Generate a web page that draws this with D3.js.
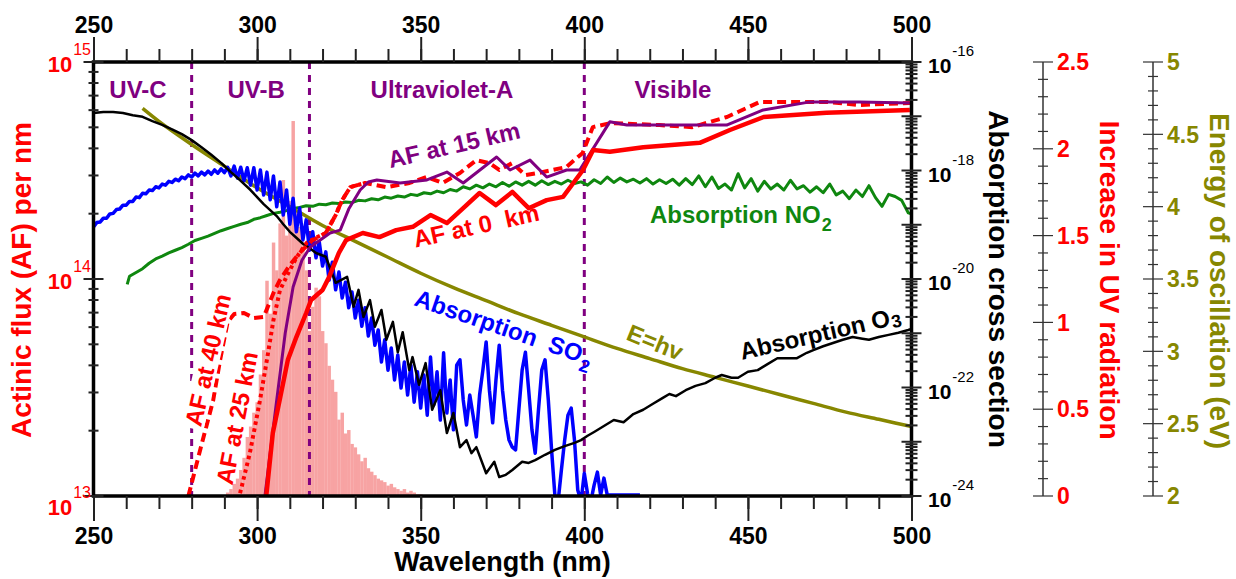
<!DOCTYPE html>
<html>
<head>
<meta charset="utf-8">
<script src="https://cdn.jsdelivr.net/npm/d3@7"></script>
<style>
  body { margin: 0; background: #fff; }
  svg { display: block; font-family: "Liberation Sans", Arial, sans-serif; font-weight: bold; }
</style>
</head>
<body>
<svg id="chart" width="1236" height="579"></svg>
<script>
// ---------- data ----------
const wavelengthTicks = [250, 300, 350, 400, 450, 500];
const regionBounds = [280, 316, 400];
const regionNames = ["UV-C", "UV-B", "Ultraviolet-A", "Visible"];
const afDecades = [13, 14, 15];
const sigmaDecades = [-24, -22, -20, -18, -16];
const uvTicks = [0, 0.5, 1, 1.5, 2, 2.5];
const evTicks = [2, 2.5, 3, 3.5, 4, 4.5, 5];

// actinic flux per nm, [nm, value]
const af0km = [[302.8,1.0e13],[304.8,1.95e13],[306.9,2.77e13],[309.4,4.24e13],[312,5.4e13],[315,6.97e13],[316.5,8.0e13],
  [320,8.9e13],[322,1.02e14],[325,1.32e14],[327.2,1.51e14],[332.3,1.63e14],[337.4,1.56e14],[342.5,1.68e14],[347.6,1.74e14],
  [353,1.97e14],[358,1.81e14],[363,2.12e14],[368,2.49e14],[373,2.19e14],[378,2.52e14],[383,2.12e14],[388.5,2.31e14],
  [393.5,2.39e14],[399.6,3.18e14],[402.7,3.93e14],[407.8,3.86e14],[418,4.05e14],[435.3,4.24e14],[444.5,4.86e14],
  [454.8,5.58e14],[474,5.83e14],[499.5,6.01e14]];
const af15km = [[302.4,1.0e13],[304,1.58e13],[306,2.77e13],[308.6,5.64e13],[311,9.18e13],[313.7,1.22e14],[316.2,1.40e14],
  [319.2,1.51e14],[322.3,1.63e14],[325.4,1.68e14],[328,2.1e14],[331.5,2.57e14],[334,2.8e14],[336.6,2.86e14],[343.7,2.77e14],
  [351.9,2.86e14],[358,3.11e14],[363,2.77e14],[373.2,3.65e14],[377.3,3.18e14],[383.4,3.53e14],[388.5,2.95e14],[394.6,3.18e14],
  [398.6,3.18e14],[407.8,5.30e14],[413,5.12e14],[443.5,5.12e14],[454.7,6.01e14],[469,6.55e14],[484,6.55e14],[499.5,6.47e14]];
const af25km = [[294.8,1.03e13],[297.8,1.58e13],[300.9,2.77e13],[303,4.24e13],[305,6.47e13],[307,8.9e13],[309.6,1.07e14],
  [312.1,1.26e14],[315.2,1.47e14],[318,1.55e14],[321,1.63e14],[324,1.97e14],[326,2.31e14],[328.5,2.65e14],[333,2.77e14]];
const af40km = [[279,1.0e13],[282.6,1.63e13],[286.6,2.77e13],[288.7,4.24e13],[291,6.34e13],[293,6.9e13],[296,6.97e13],
  [299,6.61e13],[302,6.68e13],[305,8.62e13],[307,9.9e13],[310,1.16e14],[313,1.32e14],[317,1.51e14],[321,1.63e14],
  [324,1.97e14],[326,2.31e14],[328.5,2.65e14],[333,2.77e14],[339.5,2.65e14],[346.6,2.77e14],[351.8,2.95e14],[356.7,2.77e14],
  [362,3.08e14],[367,3.53e14],[371,3.42e14],[374,3.18e14],[378,3.42e14],[382,3.01e14],[386,3.08e14],[394.5,3.28e14],
  [399.5,3.81e14],[402.6,5.01e14],[408,5.23e14],[423,5.12e14],[433,5.01e14],[443.6,5.58e14],[453.7,6.55e14],[474,6.55e14],
  [484,6.34e14],[499.5,6.47e14]];

// log10 of absorption cross section, [nm, log10 sigma]
const o3LogSigma = [[250,-16.94],[253,-16.92],[256,-16.92],[259,-16.94],[262,-16.98],[265,-17.01],[268,-17.09],[271,-17.16],
  [274,-17.24],[277,-17.33],[280,-17.44],[283,-17.57],[286,-17.71],[289,-17.86],[292,-18.03],[295,-18.19],[298,-18.36],
  [300,-18.49],[302,-18.62],[304,-18.73],[306,-18.84],[308,-18.99],[310,-19.13],[312,-19.24],[314,-19.35],[316,-19.43],
  [318,-19.52],[321,-19.59],[324,-20.07],[327.5,-19.96],[329.5,-20.51],[331,-20.20],[332.5,-20.70],[334.5,-20.39],
  [336,-20.88],[338,-20.57],[339.5,-21.12],[341.5,-20.79],[343,-21.35],[344.5,-20.98],[346.5,-21.68],[347.5,-21.44],
  [349.5,-21.95],[351.5,-21.55],[353.5,-22.41],[356,-22.05],[358,-22.84],[360,-22.47],[362,-23.10],[364,-22.97],
  [365.5,-23.21],[367,-23.10],[370,-23.58],[372.5,-23.37],[374,-23.65],[376,-23.61],[378,-23.52],[381,-23.37],[383,-23.39],
  [385,-23.34],[388,-23.24],[391,-23.15],[394,-23.08],[397,-23.02],[399,-22.97],[401,-22.89],[403,-22.82],[406,-22.71],
  [409,-22.60],[412,-22.64],[415,-22.49],[418,-22.41],[421,-22.30],[424,-22.19],[426,-22.12],[428,-22.16],[431,-22.05],
  [434,-21.97],[437,-21.92],[440,-21.82],[442,-21.77],[445,-21.82],[447,-21.82],[450,-21.71],[453,-21.68],[456,-21.57],
  [459,-21.46],[462,-21.46],[465,-21.46],[468,-21.36],[470,-21.31],[473,-21.24],[476,-21.18],[479,-21.12],[482,-21.07],
  [485,-21.10],[487,-21.12],[490,-21.07],[493,-21.03],[496,-20.99],[499,-20.94],[500,-20.92]];
const so2LogSigma = [[250,-19.04],[251,-18.96],[252,-18.95],[253,-18.88],[254,-18.88],[255,-18.80],[256,-18.79],[257,-18.72],
  [258,-18.71],[259,-18.64],[260,-18.64],[261,-18.57],[262,-18.57],[263,-18.49],[264,-18.50],[265,-18.42],[266,-18.43],
  [267,-18.36],[268,-18.37],[269,-18.30],[270,-18.32],[271,-18.25],[272,-18.27],[273,-18.20],[274,-18.22],[275,-18.16],
  [276,-18.19],[277,-18.12],[278,-18.15],[279,-18.08],[280,-18.12],[281,-18.05],[282,-18.10],[283,-18.03],[284,-18.08],
  [285,-18.01],[286,-18.07],[287,-17.99],[288,-18.05],[289,-17.97],[290,-18.04],
  [291,-17.94],[292,-18.10],[293,-17.92],[294,-18.14],[295,-17.94],[296,-18.19],[297,-17.95],[298,-18.27],[299,-17.95],[300,-18.36],
  [301,-17.99],[302,-18.45],[303,-18.03],[304,-18.54],[305,-18.10],[306,-18.67],[307,-18.21],[308,-18.82],[309,-18.36],[310,-18.99],
  [311,-18.51],[312,-19.13],[313,-18.69],[314,-19.28],[315,-18.91],[316,-19.47],[317,-19.13],[318,-19.61],[319,-19.32],[320,-19.76],
  [321,-19.50],[322,-20.02],[323,-19.69],[324,-20.20],[325,-19.87],[326,-20.35],[327,-20.06],[328,-20.53],[329,-20.24],[330,-20.72],
  [331,-20.39],[332,-20.87],[333,-20.53],[334,-21.05],[335,-20.72],[336,-21.22],[337,-20.94],[338,-21.53],[339,-21.12],[340,-21.68],
  [341,-21.27],[342,-21.86],[343,-21.40],[344,-22.01],[345,-21.53],[346,-22.14],[347,-21.59],[348,-22.27],[349,-21.71],[350,-22.38],
  [351,-21.77],[352,-22.51],[353,-21.44],[354,-22.32],[355,-21.71],[356,-22.60],[357,-21.36],[358,-22.47],[359,-21.86],[360,-22.78],
  [361,-21.59],[362,-21.49],[363,-22.23],[364,-22.69],[365,-22.14],[366,-22.51],[367,-22.91],[368,-22.14],[369,-21.68],[370,-21.16],
  [371,-22.05],[372,-22.65],[373,-21.86],[374,-21.22],[375,-22.05],[376,-22.60],[377,-22.97],[378,-23.10],[379,-23.15],[380,-22.41],
  [381,-21.68],[382,-21.35],[383,-22.05],[384,-22.78],[385,-23.21],[386,-22.41],[387,-21.68],[388,-21.49],[389,-22.23],[390,-23.15],
  [391,-23.98],[392,-24.10],[393,-23.52],[394,-22.97],[395,-22.51],[396,-22.38],[397,-22.97],[398,-23.89],[399,-24.10],[400,-23.58],
  [401,-23.96],[402,-24.10],[403,-23.80],[404,-23.56],[405,-23.98],[406,-23.67],[407,-23.98],[417,-23.98]];
const no2LogSigma = [[260.3,-20.10],[261,-19.95],[263,-19.88],[265,-19.81],[267,-19.71],[269,-19.63],[271,-19.58],[273,-19.52],
  [275,-19.47],[277,-19.42],[279,-19.36],[281,-19.29],[283,-19.25],[285,-19.21],[287,-19.16],[289,-19.11],[291,-19.07],
  [293,-19.03],[295,-18.99],[297,-18.96],[299,-18.90],[301,-18.87],[303,-18.83],[305,-18.79],[307,-18.77],[309,-18.74],
  [311,-18.70],[313,-18.68],[315,-18.65],[317,-18.66],[319,-18.62],[321,-18.63],[323,-18.60],[325,-18.61],[327,-18.58],
  [329,-18.59],[331,-18.55],[333,-18.56],[335,-18.52],[337,-18.54],[339,-18.49],[341,-18.51],[343,-18.47],[345,-18.49],
  [347,-18.44],[349,-18.46],[351,-18.41],[353,-18.43],[355,-18.38],[357,-18.41],[359,-18.35],[361,-18.38],[363,-18.30],
  [365,-18.34],[367,-18.27],[369,-18.32],[371,-18.25],[373,-18.30],[375,-18.22],[377,-18.29],[379,-18.21],[381,-18.27],
  [383,-18.20],[385,-18.27],[387,-18.19],[389,-18.26],[391,-18.20],[393,-18.25],[395,-18.18],[397,-18.24],[399,-18.21],
  [401,-18.27],[403,-18.17],[405,-18.24],[407,-18.12],[409,-18.22],[411,-18.14],[413,-18.21],[415,-18.16],[417,-18.23],
  [419,-18.15],[421,-18.25],[423,-18.17],[425,-18.24],[427,-18.16],[429,-18.27],[431,-18.15],[433,-18.26],[435,-18.10],
  [437,-18.30],[439,-18.12],[441,-18.33],[443,-18.25],[445,-18.36],[447,-18.06],[449,-18.32],[451,-18.15],[453,-18.38],
  [455,-18.20],[457,-18.34],[459,-18.25],[461,-18.36],[463,-18.18],[465,-18.34],[467,-18.28],[469,-18.40],[471,-18.30],
  [473,-18.41],[475,-18.25],[477,-18.45],[479,-18.38],[481,-18.52],[483,-18.36],[485,-18.48],[487,-18.28],[489,-18.50],
  [491,-18.66],[493,-18.44],[495,-18.48],[497,-18.55],[499,-18.78],[500,-18.80]];

// photon energy E = h nu, [nm, eV]
const photonEnergy = [[265,4.68],[270,4.59],[280,4.43],[290,4.28],[300,4.13],[310,4.00],[320,3.87],[330,3.76],[340,3.65],
  [350,3.54],[360,3.44],[370,3.35],[380,3.26],[390,3.18],[400,3.10],[410,3.02],[420,2.95],[430,2.88],[440,2.82],[450,2.76],
  [460,2.70],[470,2.64],[480,2.58],[490,2.53],[500,2.48]];

// increase in UV radiation, 1 nm bins
const uvBinNm = [291,292,293,294,295,296,297,298,299,300,301,302,303,304,305,306,307,308,309,310,311,312,313,314,315,316,
  317,318,319,320,321,322,323,324,325,326,327,328,329,330,331,332,333,334,335,336,337,338,339,340,341,342,343,344,345,346,
  347,348,349,350];
const uvIncrease = [0.02,0.04,0.07,0.1,0.15,0.22,0.34,0.4,0.48,0.54,0.7,0.84,1.24,1.05,1.46,1.3,1.57,1.82,1.5,1.7,2.16,1.65,
  1.55,1.46,1.3,0.95,1.09,1.2,1.15,0.95,0.88,0.75,0.67,0.6,0.44,0.48,0.36,0.38,0.3,0.28,0.24,0.2,0.22,0.16,0.14,0.12,0.1,
  0.09,0.08,0.06,0.07,0.05,0.04,0.03,0.04,0.02,0.03,0.02,0.01,0.01];

// ---------- drawing ----------
const svg = d3.select("#chart");
const plot = { left: 93.5, right: 911.5, top: 62, bottom: 496 };

const x = d3.scaleLinear().domain([250, 500]).range([plot.left, plot.right]);
const yAF = d3.scaleLog().domain([1e13, 1e15]).range([plot.bottom, plot.top]);
const ySig = d3.scaleLog().domain([1e-24, 1e-16]).range([plot.bottom, plot.top]);
const yUV = d3.scaleLinear().domain([0, 2.5]).range([plot.bottom, plot.top]);
const yEV = d3.scaleLinear().domain([2, 5]).range([plot.bottom, plot.top]);

const RED = "#ff0000", PURPLE = "#800080", BLUE = "#0000ff", GREEN = "#0f870f",
      OLIVE = "#878700", PINK = "#f7a3a3", TICK = "#222";

svg.append("defs").append("clipPath").attr("id", "clip").append("rect")
  .attr("x", plot.left).attr("y", plot.top)
  .attr("width", plot.right - plot.left).attr("height", plot.bottom - plot.top);

const body = svg.append("g").attr("clip-path", "url(#clip)");

// histogram
body.append("g").selectAll("rect")
  .data(d3.zip(uvBinNm, uvIncrease))
  .join("rect")
  .attr("x", d => x(d[0] - 0.5))
  .attr("width", d => x(d[0] + 0.5) - x(d[0] - 0.5) + 0.2)
  .attr("y", d => yUV(d[1]))
  .attr("height", d => yUV(0) - yUV(d[1]))
  .attr("fill", PINK);

// region boundaries
body.append("g").selectAll("line")
  .data(regionBounds)
  .join("line")
  .attr("x1", d => x(d)).attr("x2", d => x(d))
  .attr("y1", plot.top).attr("y2", plot.bottom)
  .attr("stroke", PURPLE).attr("stroke-width", 3)
  .attr("stroke-dasharray", "7,6");

const lineAF = d3.line().x(d => x(d[0])).y(d => yAF(d[1]));
const lineSig = d3.line().x(d => x(d[0])).y(d => ySig(Math.pow(10, d[1])));
const lineEV = d3.line().x(d => x(d[0])).y(d => yEV(d[1])).curve(d3.curveMonotoneX);

function path(g, data, gen, color, width, dash) {
  g.append("path").datum(data)
    .attr("d", gen)
    .attr("fill", "none")
    .attr("stroke", color)
    .attr("stroke-width", width)
    .attr("stroke-linejoin", "round")
    .attr("stroke-dasharray", dash || null);
}

path(body, no2LogSigma, lineSig, GREEN, 3);
path(body, photonEnergy, lineEV, OLIVE, 3.5);
path(body, so2LogSigma, lineSig, BLUE, 3.5);
path(body, o3LogSigma, lineSig, "#000", 2.5);

// label box for "AF at 40 km" (hides the boundary line behind it)
const notes40 = svg.append("g").attr("transform", "translate(208,360) rotate(-77)");
const t40 = notes40.append("text").attr("text-anchor", "middle").attr("dy", "0.35em")
  .attr("font-size", 24).attr("fill", RED).text("AF at 40 km");
const bb = t40.node().getBBox();
notes40.insert("rect", "text").attr("x", bb.x - 3).attr("y", bb.y + 2)
  .attr("width", bb.width + 6).attr("height", bb.height - 4).attr("fill", "#fff");

path(body, af25km, lineAF, RED, 4, "3.5,3.5");
path(body, af40km, lineAF, RED, 4, "9,5");
path(body, af15km, lineAF, PURPLE, 3);
path(body, af0km, lineAF, RED, 4.5);

// frame
svg.append("rect")
  .attr("x", plot.left).attr("y", plot.top)
  .attr("width", plot.right - plot.left).attr("height", plot.bottom - plot.top)
  .attr("fill", "none").attr("stroke", "#000").attr("stroke-width", 3.5);

// wavelength axes
function styleAxis(g) {
  g.select(".domain").remove();
  g.selectAll(".tick line").attr("stroke", TICK).attr("stroke-width", 2);
  g.selectAll(".tick text").attr("fill", "#000").attr("font-size", 23)
    .attr("font-family", null).attr("font-weight", "bold");
  g.attr("font-family", null).attr("font-size", null);
}
const minorNm = d3.range(260, 500, 10);
svg.append("g").attr("transform", `translate(0,${plot.bottom})`)
  .call(d3.axisBottom(x).tickValues(minorNm).tickSize(13).tickFormat("")).call(styleAxis);
svg.append("g").attr("transform", `translate(0,${plot.bottom})`)
  .call(d3.axisBottom(x).tickValues(wavelengthTicks).tickSize(25).tickPadding(7).tickFormat(d3.format("d"))).call(styleAxis);
svg.append("g").attr("transform", `translate(0,${plot.top})`)
  .call(d3.axisTop(x).tickValues(minorNm).tickSize(13).tickFormat("")).call(styleAxis);
svg.append("g").attr("transform", `translate(0,${plot.top})`)
  .call(d3.axisTop(x).tickValues(wavelengthTicks).tickSize(25).tickPadding(4).tickFormat(d3.format("d"))).call(styleAxis);

// log ticks crossing an axis line
const isDecade = v => Math.abs(Math.log10(v) - Math.round(Math.log10(v))) < 1e-6;
function crossTicks(values, scale, xPos, major, minor, isMajor) {
  svg.append("g").selectAll("line").data(values).join("line")
    .attr("x1", d => xPos - (isMajor(d) ? major : minor))
    .attr("x2", d => xPos + (isMajor(d) ? major : minor))
    .attr("y1", d => scale(d)).attr("y2", d => scale(d))
    .attr("stroke", TICK).attr("stroke-width", 2);
}
crossTicks(yAF.ticks(), yAF, plot.left, 10, 5, isDecade);
crossTicks(ySig.ticks(), ySig, plot.right, 10, 6, isDecade);

// power-of-ten labels
function powerLabels(decades, scale, xPos, anchor, color, base, sup, dyFn) {
  svg.append("g").selectAll("text").data(decades).join("text")
    .attr("x", xPos)
    .attr("y", d => scale(Math.pow(10, d)) + dyFn(d))
    .attr("text-anchor", anchor).attr("fill", color)
    .each(function (d) {
      const t = d3.select(this);
      t.append("tspan").attr("font-size", base).text("10");
      t.append("tspan").attr("font-size", sup).attr("font-weight", "normal")
        .attr("dx", 1).attr("dy", -17).text(d);
    });
}
powerLabels(afDecades, yAF, 91, "end", RED, 22, 16, d => d === 13 ? 19 : 10);
powerLabels(sigmaDecades, ySig, 928, "start", "#000", 21, 15, d => 11);

// linear side axes
function sideAxis(xPos, scale, step, labels, color) {
  const [lo, hi] = scale.domain();
  const g = svg.append("g");
  g.append("line").attr("x1", xPos).attr("x2", xPos)
    .attr("y1", scale(lo)).attr("y2", scale(hi))
    .attr("stroke", "#333").attr("stroke-width", 1.5);
  const ticks = d3.range(lo, hi + step / 2, step);
  const isLab = v => labels.some(l => Math.abs(l - v) < 1e-6);
  g.selectAll("line.t").data(ticks).join("line").attr("class", "t")
    .attr("x1", d => xPos - (isLab(d) ? 10 : 5))
    .attr("x2", d => xPos + (isLab(d) ? 10 : 5))
    .attr("y1", d => scale(d)).attr("y2", d => scale(d))
    .attr("stroke", "#333").attr("stroke-width", 1.2);
  g.selectAll("text").data(labels).join("text")
    .attr("x", xPos + 14).attr("y", d => scale(d)).attr("dy", "0.36em")
    .attr("font-size", 23).attr("fill", color)
    .text(d3.format("~g"));
}
sideAxis(1043, yUV, 0.1, uvTicks, RED);
sideAxis(1153, yEV, 0.1, evTicks, OLIVE);

// axis titles
function title(txt, tx, ty, angle, color, size) {
  svg.append("text")
    .attr("transform", `translate(${tx},${ty}) rotate(${angle})`)
    .attr("text-anchor", "middle").attr("font-size", size || 28).attr("fill", color)
    .text(txt);
}
title("Wavelength (nm)", (plot.left + plot.right) / 2, 571, 0, "#000", 27);
title("Actinic flux (AF) per nm", 31, 280, -90, RED);
title("Absorption cross section", 989, 279, 90, "#000");
title("Increase in UV radiation", 1100, 280, 90, RED);
title("Energy of oscillation (eV)", 1210, 281, 90, OLIVE);

// region names
const regionCenters = [263.6, 299.7, 356.5, 427.1];
svg.append("g").selectAll("text").data(regionNames).join("text")
  .attr("x", (d, i) => x(regionCenters[i])).attr("y", 98)
  .attr("text-anchor", "middle").attr("font-size", 24).attr("fill", PURPLE)
  .text(d => d);

// curve annotations
function note(parts, tx, ty, angle, color, anchor) {
  const t = svg.append("text")
    .attr("transform", `translate(${tx},${ty}) rotate(${angle})`)
    .attr("text-anchor", anchor || "middle").attr("font-size", 24).attr("fill", color);
  parts.forEach(p => {
    const s = t.append("tspan").text(p.t);
    if (p.sub) s.attr("font-size", 18).attr("dy", p.sub).attr("dx", 1);
  });
  return t;
}
note([{ t: "AF at 15 km" }], 456, 153, -13, PURPLE);
note([{ t: "AF at 0\u00a0 km" }], 478, 234, -12.5, RED);
note([{ t: "AF at 25 km" }], 237, 418, -79, RED).attr("dy", "0.35em");
note([{ t: "E=hv" }], 652, 350, 22, OLIVE);
note([{ t: "Absorption O" }, { t: "3", sub: 3 }], 742, 360, -13, "#000", "start");
note([{ t: "Absorption\u00a0 SO" }, { t: "2", sub: 8 }], 413, 305, 19, BLUE, "start");
note([{ t: "Absorption NO" }, { t: "2", sub: 8 }], 650, 223, 0, GREEN, "start");
</script>
</body>
</html>
